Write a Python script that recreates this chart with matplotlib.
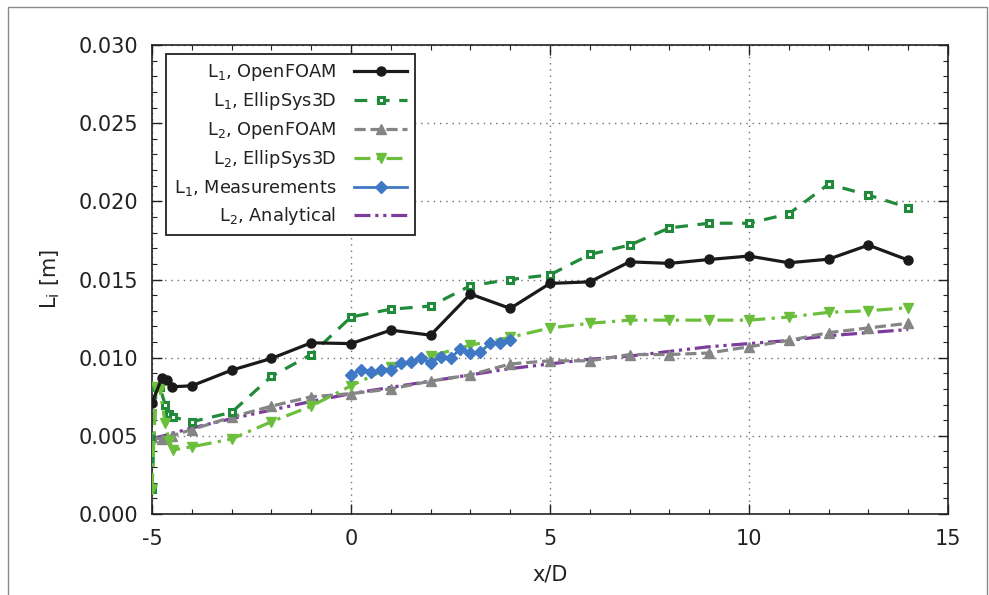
import matplotlib
matplotlib.use("Agg")
import matplotlib.pyplot as plt
from matplotlib.patches import Rectangle
from matplotlib.ticker import MultipleLocator

# ---- data -------------------------------------------------------------
x_of = [-5, -4.75, -4.63, -4.5, -4, -3, -2, -1, 0, 1, 2, 3, 4, 5, 6, 7, 8, 9, 10, 11, 12, 13, 14]
l1_openfoam = [0.00712, 0.00870, 0.00860, 0.00814, 0.00820, 0.00920, 0.00995, 0.01095, 0.01090,
               0.01176, 0.01144, 0.01407, 0.01315, 0.01475, 0.01485, 0.01613, 0.01603, 0.01628,
               0.01650, 0.01607, 0.01630, 0.01720, 0.01624]

x_es = [-5, -4.9, -4.8, -4.67, -4.57, -4.47, -4, -3, -2, -1, 0, 1, 2, 3, 4, 5, 6, 7, 8, 9, 10, 11, 12, 13, 14]
l1_ellipsys = [0.0016, 0.0081, 0.0081, 0.0070, 0.0064, 0.0062, 0.0059, 0.0065, 0.0088, 0.0102,
               0.0126, 0.0131, 0.0133, 0.0146, 0.0150, 0.0153, 0.0166, 0.0172, 0.0183, 0.0186,
               0.0186, 0.0192, 0.0211, 0.0204, 0.0196]
l2_ellipsys = [0.0016, 0.0081, 0.0080, 0.0058, 0.0047, 0.0041, 0.0043, 0.0048, 0.0059, 0.0069,
               0.0082, 0.0094, 0.0101, 0.0108, 0.0113, 0.0119, 0.0122, 0.0124, 0.0124, 0.0124,
               0.0124, 0.0126, 0.0129, 0.0130, 0.0132]

x_l2of = [-5, -4.75, -4.5, -4, -3, -2, -1, 0, 1, 2, 3, 4, 5, 6, 7, 8, 9, 10, 11, 12, 13, 14]
l2_openfoam = [0.0049, 0.0048, 0.0050, 0.0054, 0.0062, 0.0069, 0.0075, 0.0077, 0.0080, 0.0085,
               0.0089, 0.0096, 0.0098, 0.0098, 0.0102, 0.0102, 0.0103, 0.0107, 0.0111, 0.0116,
               0.0119, 0.0122]

x_meas = [0, 0.25, 0.5, 0.75, 1, 1.25, 1.5, 1.75, 2, 2.25, 2.5, 2.75, 3, 3.25, 3.5, 3.75, 4]
l1_meas = [0.00889, 0.00923, 0.00910, 0.00918, 0.00918, 0.00963, 0.00974, 0.00995, 0.00967,
           0.01006, 0.01000, 0.01053, 0.01027, 0.01037, 0.01091, 0.01095, 0.01115]

x_an = [-5, -4, -3, -2, -1, 0, 1, 2, 3, 4, 5, 6, 7, 8, 9, 10, 11, 12, 13, 14]
l2_analytical = [0.0048, 0.0055, 0.0061, 0.00665, 0.0072, 0.0077, 0.0081, 0.0085, 0.0089, 0.0093,
                 0.0096, 0.0099, 0.0101, 0.0104, 0.0107, 0.0109, 0.0111, 0.0114, 0.0116, 0.0118]

x_ticks = [-5, 0, 5, 10, 15]
y_ticks = [0.000, 0.005, 0.010, 0.015, 0.020, 0.025, 0.030]

# ---- figure -----------------------------------------------------------
plt.rcParams['font.family'] = ['DejaVu Sans']
fig = plt.figure(figsize=(9.89, 5.95), dpi=100)
fig.patches.append(Rectangle((8 / 989, -0.05), (987 - 8) / 989, 1.05 - 7 / 595,
                             transform=fig.transFigure, fill=False,
                             edgecolor='#8a8a8a', linewidth=1.0))
ax = fig.add_axes([152 / 989, 1 - 514 / 595, (948 - 152) / 989, (514 - 45) / 595])

c_black = '#1a1a1a'
c_dgreen = '#228b3b'
c_gray = '#858585'
c_lgreen = '#6cbf3c'
c_blue = '#3f78c4'
c_purple = '#7b3c9c'
c_text = '#222222'

ax.plot(x_of, l1_openfoam, color=c_black, lw=2.3, marker='o', ms=6.5,
        label=r'L$_1$, OpenFOAM', zorder=6)
ax.plot(x_es, l1_ellipsys, color=c_dgreen, lw=2.3, ls=(0, (4, 3)), marker='s', ms=5,
        mfc='white', mec=c_dgreen, mew=2.2, label=r'L$_1$, EllipSys3D', zorder=4.5)
ax.plot(x_l2of, l2_openfoam, color=c_gray, lw=2.3, ls=(0, (3.5, 1.5)), marker='^', ms=7,
        label=r'L$_2$, OpenFOAM', zorder=4)
ax.plot(x_es, l2_ellipsys, color=c_lgreen, lw=2.3, ls=(0, (5, 2, 1, 2)), marker='v', ms=7,
        label=r'L$_2$, EllipSys3D', zorder=5)
ax.plot(x_meas, l1_meas, color=c_blue, lw=2.0, marker='D', ms=6,
        label=r'L$_1$, Measurements', zorder=7)
ax.plot(x_an, l2_analytical, color=c_purple, lw=2.3, ls=(0, (5, 1.5, 1, 1.5, 1, 1.5)),
        label=r'L$_2$, Analytical', zorder=3)

ax.set_xlim(-5, 15)
ax.set_ylim(0, 0.030)
ax.set_xticks(x_ticks)
ax.set_yticks(y_ticks)
ax.set_xticklabels([f'{v:g}' for v in x_ticks])
ax.set_yticklabels([f'{v:.3f}' for v in y_ticks])
ax.xaxis.set_minor_locator(MultipleLocator(1))
ax.yaxis.set_minor_locator(MultipleLocator(0.001))
ax.tick_params(which='both', direction='in', top=True, right=True, labelsize=15,
               color=c_text, labelcolor=c_text)
ax.tick_params(which='major', length=7, width=1)
ax.tick_params(which='minor', length=3.5, width=0.8)
ax.tick_params(axis='x', pad=11)
ax.tick_params(axis='y', pad=10)
for s in ax.spines.values():
    s.set_linewidth(1.2)
    s.set_color(c_text)

ax.grid(True, which='major', color='#707070', ls=(0, (1, 3.5)), lw=1.0)
ax.set_axisbelow(True)

ax.set_xlabel('x/D', fontsize=15, labelpad=11, color=c_text)
ax.set_ylabel(r'L$_\mathrm{i}$ [m]', fontsize=15, labelpad=12, color=c_text)

leg = ax.legend(loc='upper left', bbox_to_anchor=(14 / 796, 1 - 9 / 469), borderaxespad=0,
                fontsize=12.8, markerfirst=False, fancybox=False, framealpha=1,
                edgecolor=c_text, handlelength=3.0, labelspacing=0.42,
                borderpad=0.45, handletextpad=1.0)
for t in leg.get_texts():
    t.set_ha('right')
    t.set_color(c_text)
leg.get_frame().set_linewidth(1.3)

fig.savefig('out.png', dpi=100)
